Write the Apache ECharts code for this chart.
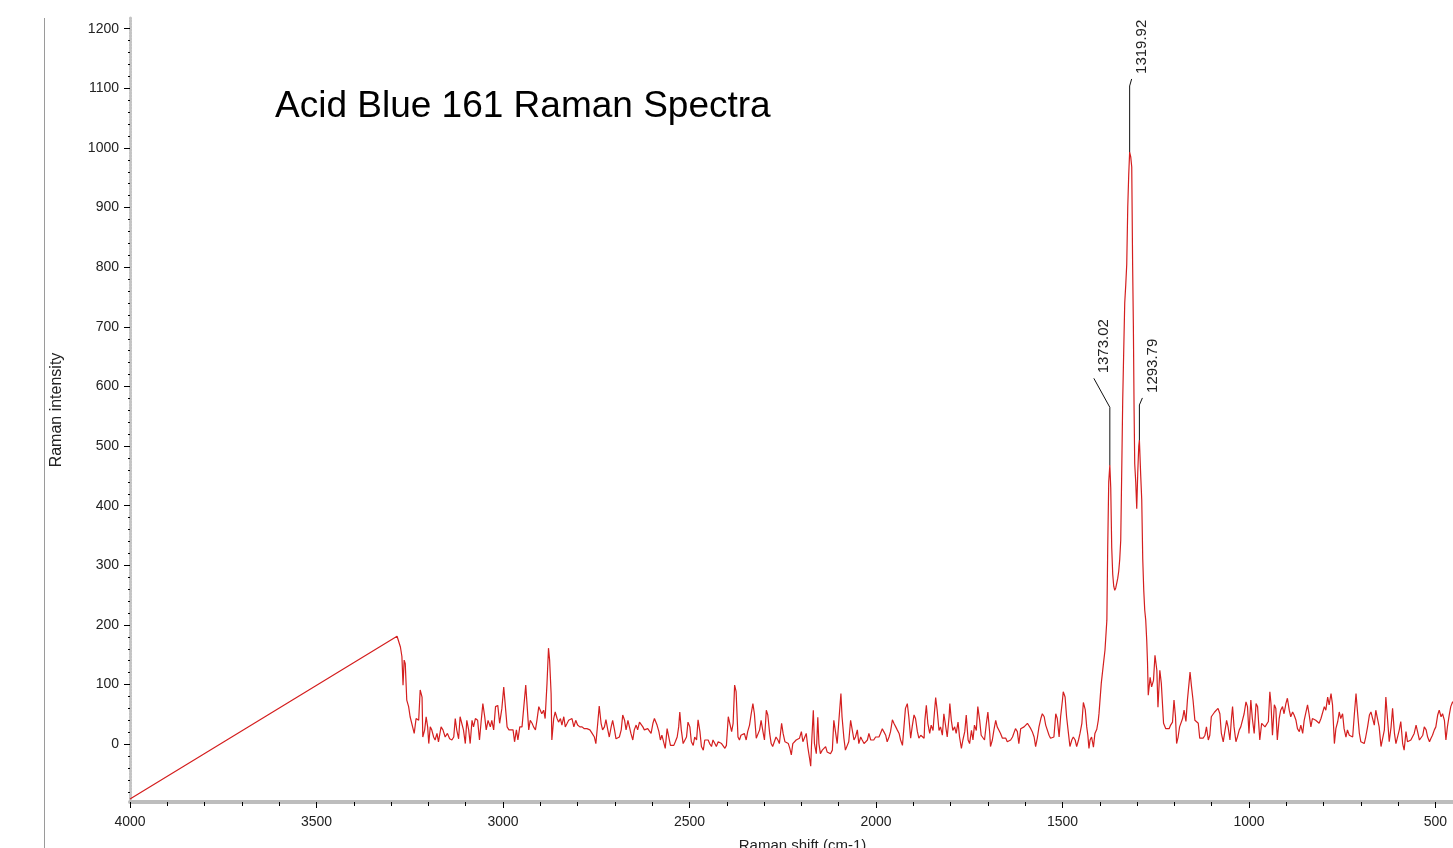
<!DOCTYPE html>
<html><head><meta charset="utf-8">
<script src="https://cdn.jsdelivr.net/npm/echarts@6/dist/echarts.min.js"></script>
<style>html,body{margin:0;padding:0;background:#fff}#c{width:1453px;height:848px}</style>
</head><body><div id="c"></div>
<script>
// Spectrum: [Raman shift (cm-1), intensity]
const rampBand = [[4000,-92],[3284,181]];
const band3275to2594 = [[3275,163],[3271,147],[3268,99],[3265,141],[3262,135],[3258,74],[3253,63],[3249,46],[3244,43],[3238,18],[3233,43],[3226,40],[3222,91],[3217,79],[3215,12],[3210,24],[3206,46],[3202,29],[3199,1],[3195,29],[3191,24],[3186,12],[3182,7],[3177,18],[3173,4],[3166,29],[3161,24],[3155,12],[3149,18],[3143,9],[3137,7],[3132,12],[3128,43],[3124,24],[3119,9],[3115,46],[3110,43],[3106,24],[3101,1],[3097,40],[3092,24],[3088,1],[3083,40],[3079,29],[3074,43],[3068,40],[3063,7],[3059,35],[3054,68],[3049,46],[3045,24],[3040,40],[3034,29],[3030,40],[3025,24],[3020,63],[3014,65],[3009,35],[3003,60],[2998,96],[2994,93],[2989,29],[2984,24],[2979,25],[2973,24],[2969,4],[2964,24],[2960,7],[2955,29],[2949,29],[2945,29],[2939,99],[2936,71],[2931,24],[2927,40],[2922,35],[2918,29],[2913,24],[2909,40],[2904,63],[2900,57],[2896,51],[2891,57],[2887,43],[2882,102],[2878,161],[2875,141],[2871,85],[2869,7],[2864,43],[2860,54],[2855,43],[2851,37],[2846,43],[2842,32],[2837,46],[2833,29],[2828,35],[2824,40],[2819,37],[2815,43],[2810,29],[2805,40],[2800,32],[2794,29],[2788,29],[2782,26],[2775,26],[2767,24],[2761,18],[2755,12],[2751,1],[2746,35],[2742,64],[2737,35],[2733,24],[2728,29],[2724,41],[2719,24],[2715,12],[2710,29],[2706,40],[2701,24],[2697,9],[2692,12],[2688,12],[2683,24],[2679,49],[2674,40],[2670,24],[2665,40],[2661,29],[2657,18],[2652,7],[2648,24],[2643,32],[2639,24],[2634,37],[2630,37],[2625,29],[2621,24],[2617,26],[2612,26],[2607,24],[2603,18],[2598,35],[2594,43]];
const band2587to1880 = [[2587,32],[2582,21],[2578,7],[2574,15],[2569,12],[2565,-7],[2560,26],[2556,24],[2551,-2],[2547,1],[2542,-2],[2538,4],[2533,12],[2529,29],[2526,54],[2522,24],[2517,1],[2513,-2],[2508,12],[2504,37],[2499,29],[2495,4],[2490,-2],[2486,12],[2481,7],[2477,41],[2472,21],[2468,-4],[2463,-10],[2459,7],[2454,7],[2450,7],[2446,1],[2441,-4],[2437,7],[2432,1],[2428,-4],[2423,4],[2419,4],[2414,1],[2410,-2],[2405,-7],[2401,-2],[2396,46],[2392,46],[2387,21],[2383,35],[2379,99],[2375,88],[2370,12],[2366,7],[2362,15],[2357,12],[2353,18],[2348,7],[2344,21],[2339,32],[2335,49],[2330,68],[2326,51],[2321,10],[2317,12],[2312,24],[2308,40],[2303,21],[2299,7],[2294,57],[2290,49],[2285,18],[2281,1],[2277,-4],[2272,-2],[2268,12],[2263,7],[2259,1],[2253,35],[2249,18],[2244,4],[2240,7],[2235,1],[2231,-7],[2227,-18],[2223,1],[2218,-2],[2214,7],[2209,4],[2205,10],[2200,21],[2196,4],[2191,7],[2187,18],[2183,-4],[2178,-24],[2175,-37],[2173,-4],[2168,57],[2165,1],[2160,-16],[2156,45],[2153,1],[2149,-16],[2144,-10],[2140,-13],[2135,-4],[2131,-13],[2126,-10],[2122,-16],[2117,-10],[2113,40],[2108,43],[2104,1],[2100,35],[2094,85],[2091,46],[2086,10],[2082,-10],[2077,-7],[2073,4],[2068,40],[2064,37],[2059,7],[2055,12],[2050,24],[2046,1],[2041,12],[2037,7],[2032,1],[2028,-2],[2023,7],[2019,18],[2014,7],[2010,10],[2006,7],[2001,12],[1997,15],[1992,12],[1988,18],[1983,26],[1979,21],[1974,15],[1970,4],[1965,12],[1961,21],[1956,41],[1952,35],[1947,29],[1943,24],[1938,18],[1934,7],[1929,-2],[1925,29],[1921,60],[1916,68],[1912,46],[1907,10],[1903,29],[1898,49],[1894,43],[1889,21],[1885,10],[1880,15]];
const band1876to1404 = [[1876,12],[1871,10],[1869,40],[1865,65],[1861,35],[1856,18],[1852,32],[1847,23],[1845,40],[1840,78],[1836,57],[1831,23],[1827,29],[1822,15],[1818,51],[1813,54],[1809,12],[1804,46],[1802,68],[1798,40],[1794,23],[1789,29],[1785,18],[1780,37],[1776,12],[1771,-7],[1767,7],[1762,21],[1758,49],[1753,7],[1749,1],[1744,23],[1740,7],[1736,32],[1731,23],[1727,63],[1722,40],[1718,15],[1713,18],[1709,7],[1704,35],[1700,54],[1695,18],[1693,-4],[1688,7],[1684,23],[1679,40],[1675,29],[1670,23],[1666,18],[1661,10],[1657,7],[1652,10],[1648,4],[1643,4],[1639,7],[1634,12],[1630,10],[1626,26],[1621,21],[1617,1],[1612,26],[1608,23],[1603,29],[1599,32],[1594,35],[1590,37],[1585,26],[1581,21],[1576,12],[1572,-4],[1567,12],[1563,29],[1558,43],[1554,51],[1549,46],[1545,32],[1540,35],[1536,15],[1532,10],[1527,12],[1523,12],[1518,51],[1514,43],[1509,12],[1505,46],[1500,74],[1498,88],[1493,79],[1489,46],[1484,18],[1480,-4],[1475,7],[1471,12],[1466,7],[1462,-4],[1457,7],[1453,18],[1448,35],[1444,70],[1439,58],[1435,29],[1432,15],[1429,-7],[1426,7],[1422,12],[1417,-5],[1413,18],[1408,25],[1404,40]];
const peakBand = [[1402,52],[1396,102],[1390,136],[1386,158],[1381,208],[1378.7,330],[1376,440],[1373.02,468],[1370.6,430],[1368,330],[1365.3,285],[1362.6,265],[1359.9,258],[1357.2,262],[1354.5,270],[1351.9,278],[1349.2,290],[1346.5,310],[1343.8,342],[1341.1,460],[1338.5,577],[1335.8,660],[1333.1,740],[1330.4,770],[1327.7,805],[1325,900],[1322.4,955],[1319.92,993],[1317,985],[1314.3,968],[1312,807],[1310,706],[1308,560],[1306.3,470],[1303.6,440],[1300.9,395],[1298.2,455],[1295.5,500],[1293.79,510],[1290.2,450],[1287.5,410],[1284.8,310],[1282.1,258],[1279.5,225],[1276.8,208],[1274.1,174],[1272,136],[1270,82],[1265,112],[1261,96],[1256,107],[1252,149],[1247,124],[1244,62],[1239,124],[1235,102],[1229,35],[1227,32],[1223,26],[1219,29],[1214,26],[1210,32],[1205,37],[1201,74],[1197,46],[1194,1],[1190,12],[1186,29]];
const band1183to451 = [[1183,29],[1178,43],[1174,57],[1169,38],[1165,74],[1160,107],[1158,121],[1154,96],[1150,74],[1145,40],[1141,43],[1136,35],[1132,10],[1127,7],[1123,10],[1118,15],[1114,29],[1109,7],[1105,15],[1101,46],[1096,49],[1092,54],[1087,51],[1083,60],[1078,51],[1074,18],[1069,4],[1065,7],[1060,40],[1056,29],[1051,7],[1047,43],[1044,63],[1040,29],[1035,4],[1031,12],[1026,24],[1022,29],[1017,29],[1013,51],[1008,71],[1004,63],[1000,18],[995,74],[991,43],[986,18],[981,68],[977,63],[971,7],[966,35],[962,32],[957,29],[953,29],[948,38],[944,88],[941,68],[937,15],[932,66],[928,60],[924,7],[919,43],[915,57],[910,63],[906,51],[901,68],[897,77],[892,57],[888,46],[883,54],[879,49],[874,40],[870,26],[865,21],[861,32],[856,18],[852,40],[848,43],[843,66],[839,51],[834,29],[830,43],[825,46],[821,40],[816,43],[812,35],[807,43],[803,40],[798,63],[794,57],[789,79],[785,66],[780,85],[776,66],[771,1],[767,26],[762,38],[758,54],[754,43],[749,51],[745,26],[740,12],[736,24],[731,15],[727,18],[722,12],[718,46],[713,85],[709,54],[704,18],[700,4],[695,7],[691,1],[687,12],[682,29],[677,49],[673,54],[669,51],[664,32],[660,57],[655,57],[651,29],[646,-4],[642,-2],[637,24],[633,79],[628,38],[624,4],[619,29],[615,60],[610,18],[606,1],[602,-2],[597,24],[593,38],[588,1],[584,-10],[579,21],[575,4],[570,4],[566,7],[561,7],[557,18],[552,32],[548,21],[543,7],[539,10],[534,15],[530,29],[525,24],[521,12],[516,4],[512,10],[508,15],[503,24],[499,29],[494,49],[490,57],[485,46],[481,51],[476,40],[472,7],[468,29],[463,49],[459,63],[454,71],[451,68]];

// Tick labels
const xTickLabels = [500,1000,1500,2000,2500,3000,3500,4000];
const yTickLabels = [0,100,200,300,400,500,600,700,800,900,1000,1100,1200];

// Peak annotations: shift, peak intensity, intensity where the leader bends
const peakNames = ['1373.02','1319.92','1293.79'];
const peakShifts = [1373.02,1319.92,1293.79];
const peakHeights = [468,993,510];
const leaderBends = [565,1104,569];

const xMinorTicks = []; for (let v = 500; v <= 4000; v += 100) xMinorTicks.push(v);
const yMinorTicks = []; for (let v = -80; v <= 1200; v += 20) yMinorTicks.push(v);

const spectrum = [].concat(rampBand, band3275to2594, band2587to1880, band1876to1404, peakBand, band1183to451);

// pixel offsets of the leader ends (style)
const leaderEnd = [[-16,-29],[2,-7],[3,-7]];

const chart = echarts.init(document.getElementById('c'), null, {renderer:'canvas'});
const FONT = 'Liberation Sans, Arial, sans-serif';
const plain = v => String(v);
chart.setOption({
  animation:false,
  backgroundColor:'#fff',
  textStyle:{fontFamily:FONT},
  title:{text:'Acid Blue 161 Raman Spectra', left:275, top:88, padding:0,
    textStyle:{fontSize:37, fontWeight:'normal', color:'#000', fontFamily:FONT}},
  grid:{left:130, right:0, top:18, bottom:46, containLabel:false, outerBoundsMode:'none'},
  xAxis:[{
    type:'value', min:453, max:4000, inverse:true, position:'bottom',
    axisLine:{show:true, onZero:false, lineStyle:{color:'#bdbdbd', width:4}},
    axisTick:{show:true, customValues:xTickLabels, length:6, lineStyle:{color:'#000', width:1}},
    axisLabel:{show:true, customValues:xTickLabels, formatter:plain, fontSize:14, color:'#222', margin:13},
    splitLine:{show:false},
    name:'Raman shift (cm-1)', nameLocation:'middle', nameGap:36,
    nameTextStyle:{fontSize:15, color:'#222', padding:[0,0,0,22]}
  },{
    type:'value', min:453, max:4000, inverse:true, position:'bottom',
    axisLine:{show:false, onZero:false},
    axisTick:{show:true, customValues:xMinorTicks, length:4, lineStyle:{color:'#000', width:1}},
    axisLabel:{show:false}, splitLine:{show:false}
  }],
  yAxis:[{
    type:'value', min:-97, max:1218, position:'left',
    axisLine:{show:true, onZero:false, lineStyle:{color:'#c4c4c4', width:3, type:[2,1]}},
    axisTick:{show:true, customValues:yTickLabels, length:6, lineStyle:{color:'#000', width:1}},
    axisLabel:{show:true, customValues:yTickLabels, formatter:plain, fontSize:14, color:'#222', margin:11},
    splitLine:{show:false},
    name:'Raman intensity', nameLocation:'middle', nameGap:65,
    nameTextStyle:{fontSize:16, color:'#222'}
  },{
    type:'value', min:-97, max:1218, position:'left',
    axisLine:{show:false, onZero:false},
    axisTick:{show:true, customValues:yMinorTicks, length:2, lineStyle:{color:'#000', width:1}},
    axisLabel:{show:false}, splitLine:{show:false}
  }],
  graphic:[{type:'line', shape:{x1:44.5, y1:18, x2:44.5, y2:848}, style:{stroke:'#9a9a9a', lineWidth:1}}],
  series:[{
    type:'line', xAxisIndex:0, yAxisIndex:0, data:spectrum, symbol:'none', showSymbol:false,
    lineStyle:{color:'#d41f1f', width:1.2}, z:3
  },{
    type:'custom', xAxisIndex:0, yAxisIndex:0, clip:false, z:4,
    data: peakShifts.map((s,i)=>[s, peakHeights[i], leaderBends[i], i]),
    renderItem:function(params, api){
      const i = api.value(3);
      const p0 = api.coord([api.value(0), api.value(1)]);
      const p1 = api.coord([api.value(0), api.value(2)]);
      const off = leaderEnd[i];
      const p2 = [p1[0]+off[0], p1[1]+off[1]];
      return {type:'group', children:[
        {type:'polyline', shape:{points:[p0,p1,p2]}, style:{stroke:'#111', lineWidth:1, fill:null}},
        {type:'text', x:p2[0]+10, y:p2[1]-5, rotation:Math.PI/2,
          style:{text:peakNames[i], x:0, y:0, align:'left', verticalAlign:'middle',
            fontSize:15, fill:'#222', fontFamily:FONT}}
      ]};
    }
  }]
});
</script></body></html>
